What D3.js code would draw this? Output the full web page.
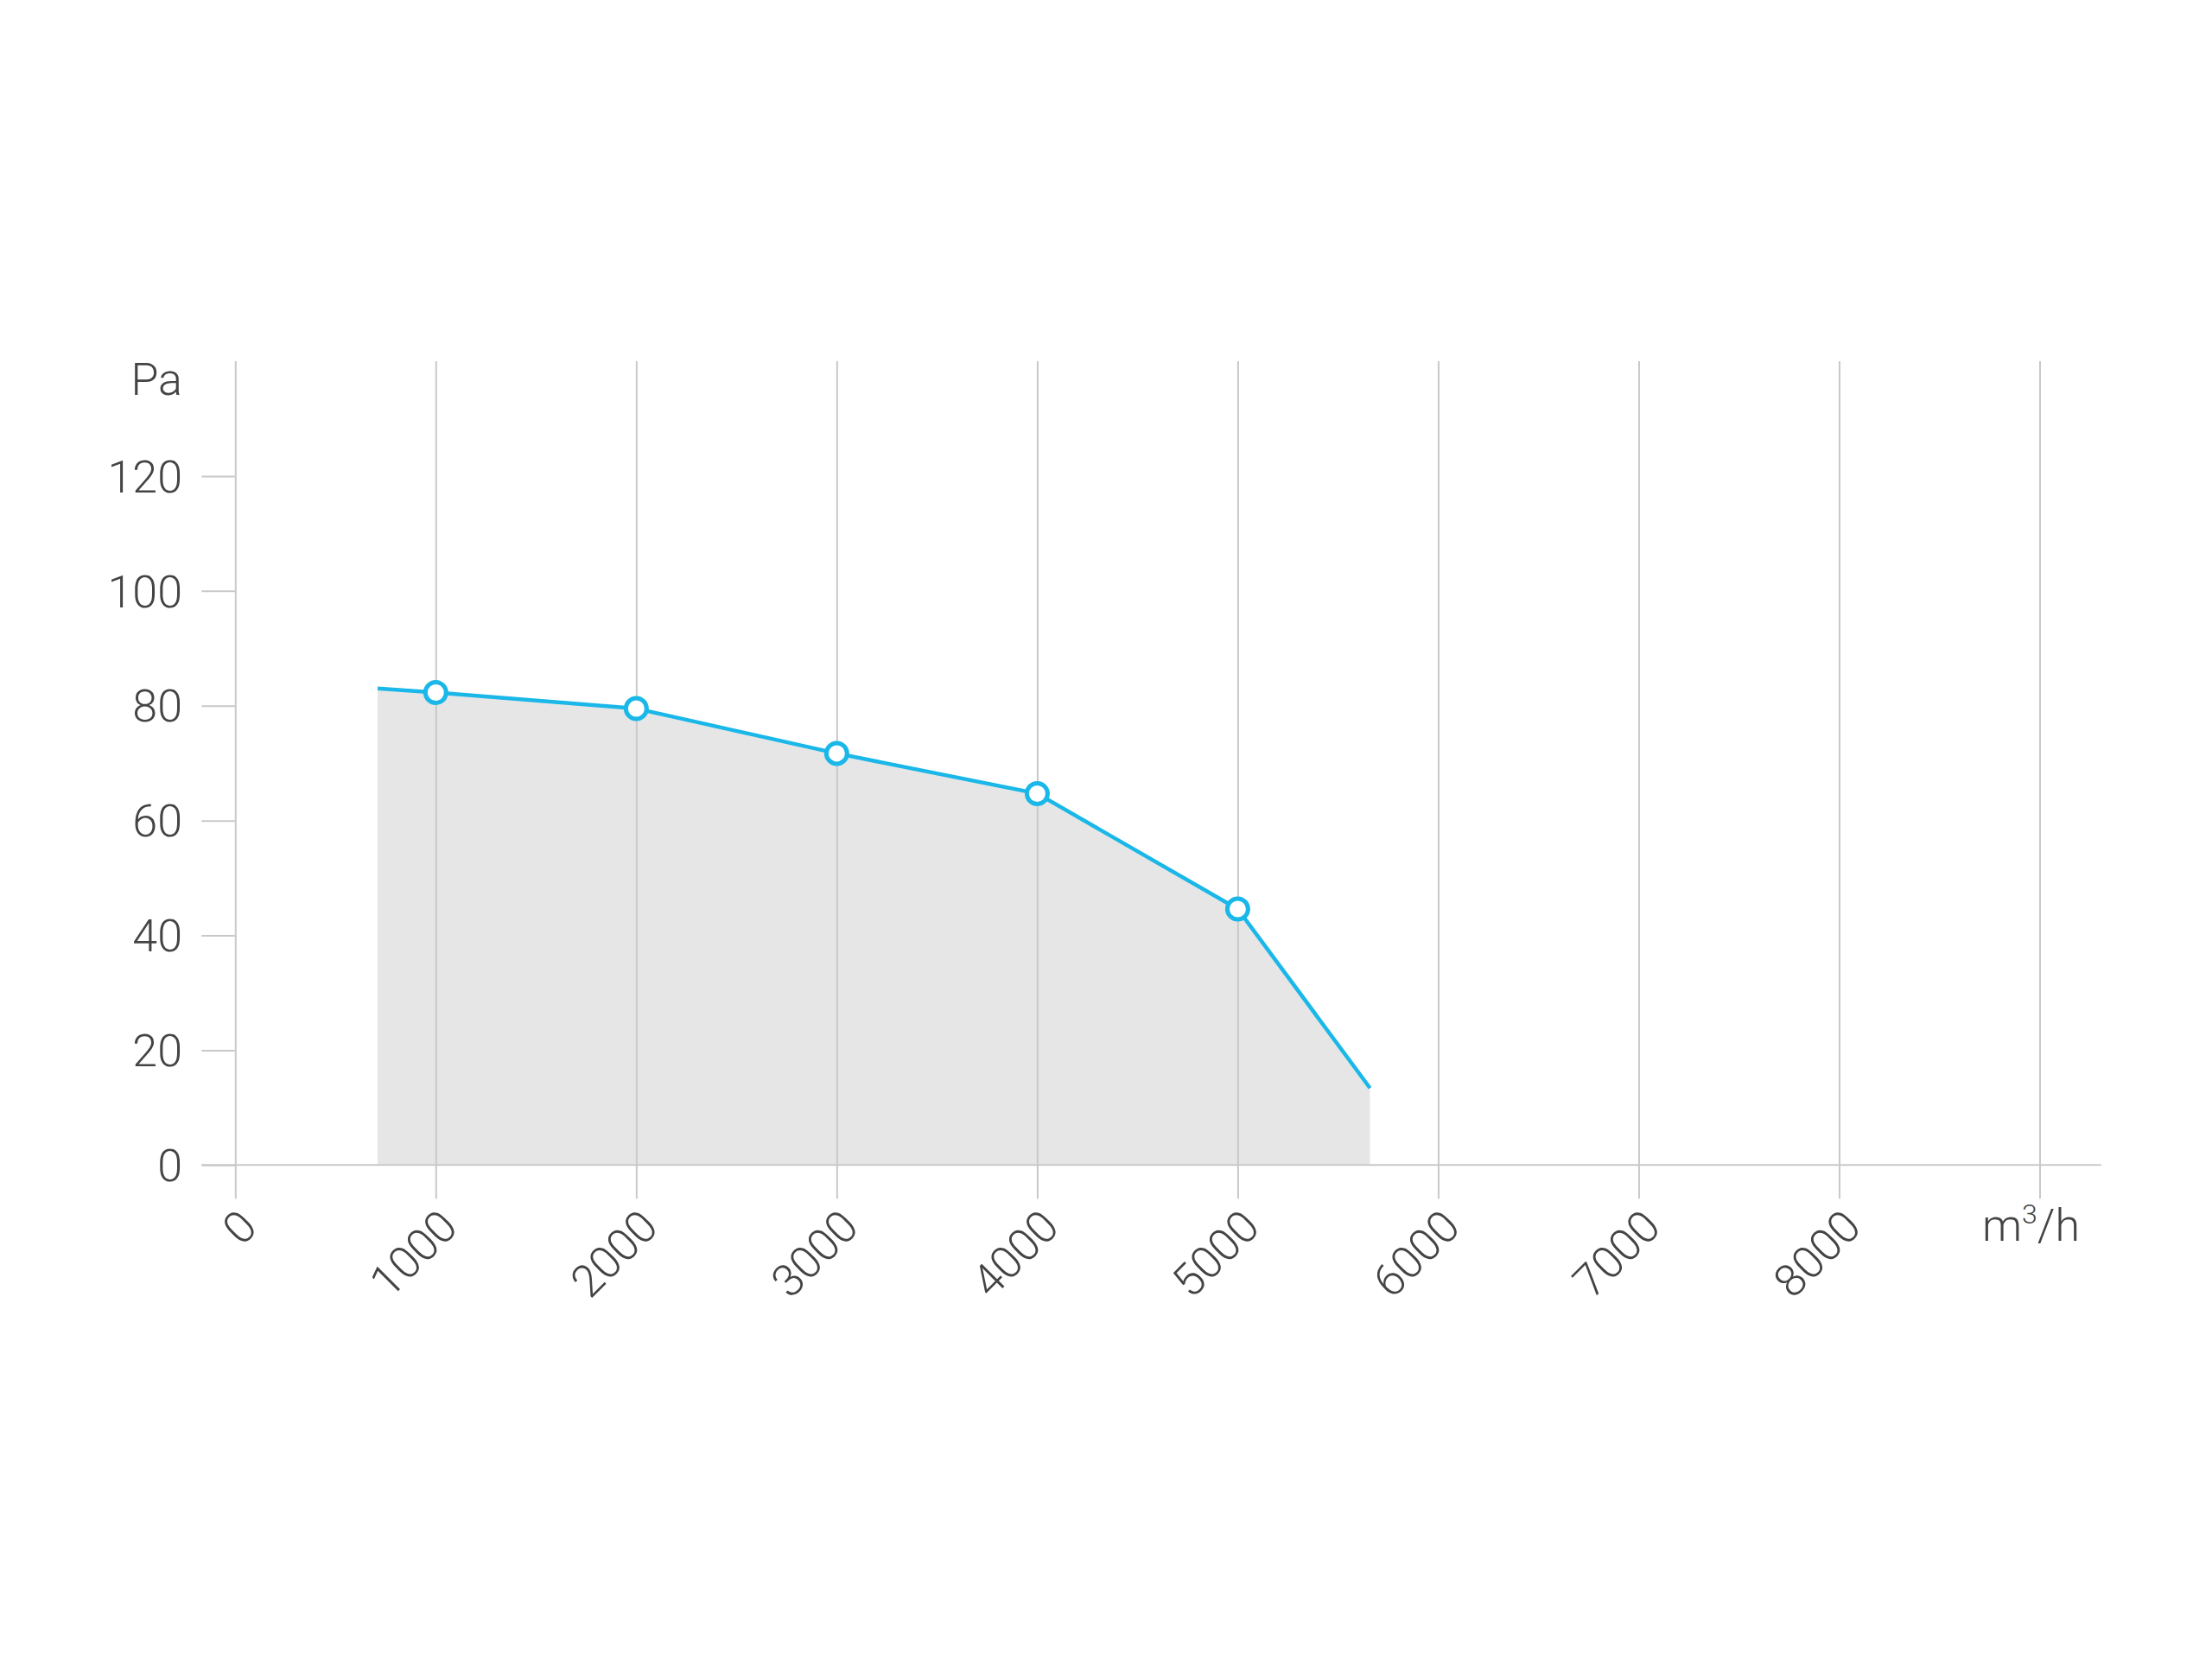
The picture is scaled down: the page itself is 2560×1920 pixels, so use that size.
<!DOCTYPE html>
<html>
<head>
<meta charset="utf-8">
<script src="https://cdn.jsdelivr.net/npm/d3@7"></script>
<style>
  html, body { margin: 0; padding: 0; background: #ffffff; }
  svg { display: block; }
  text { font-family: Roboto, "Noto Sans", sans-serif; font-weight: 300; fill: #444444; }
</style>
</head>
<body>
<svg id="chart" width="2560" height="1920"></svg>
<script>
// ---- data ----
const xTickValues = [0, 1000, 2000, 3000, 4000, 5000, 6000, 7000, 8000, 9000];
const xTickLabels = ["0", "1000", "2000", "3000", "4000", "5000", "6000", "7000", "8000", "m³/h"];
const yTickValues = [0, 20, 40, 60, 80, 100, 120];
const yUnitLabel = "Pa";
const curveFlow = [710, 1000, 2000, 3000, 4000, 5000, 5660];
const curvePressure = [83.0, 82.3, 79.5, 71.7, 64.7, 44.6, 13.4];
const curveMarker = [false, true, true, true, true, true, false];

// ---- layout ----
const svg = d3.select("#chart");
const x = d3.scaleLinear().domain([0, 9000]).range([272.3, 2360.5]);
const y = d3.scaleLinear().domain([0, 140]).range([1348.3, 418.1]);
const gridColor = "#c9c9c9";
const lineColor = "#1ab7e9";

const pts = curveFlow.map((f, i) => ({ f, p: curvePressure[i], m: curveMarker[i] }));

// area fill
svg.append("path")
  .datum(pts)
  .attr("fill", "#e6e6e6")
  .attr("d", d3.area().x(d => x(d.f)).y0(y(0)).y1(d => y(d.p)));

// vertical grid lines (incl. y axis) via axis
const xAxisG = svg.append("g")
  .attr("transform", `translate(0,${y(140)})`)
  .call(d3.axisBottom(x).tickValues(xTickValues).tickSize(y(0) - y(140) + 39).tickFormat(""));
xAxisG.select(".domain").remove();
xAxisG.selectAll(".tick line").attr("stroke", gridColor).attr("stroke-width", 2);

// y ticks
const yAxisG = svg.append("g")
  .attr("transform", `translate(${x(0)},0)`)
  .call(d3.axisLeft(y).tickValues(yTickValues).tickSize(39).tickPadding(25));
yAxisG.select(".domain").remove();
yAxisG.selectAll(".tick line").attr("stroke", gridColor).attr("stroke-width", 2);
yAxisG.selectAll(".tick text")
  .attr("font-size", 52).attr("font-family", "Roboto, sans-serif")
  .attr("font-weight", 300).attr("fill", "#444").attr("dy", "0.35em")
  .attr("x", 211 - x(0));

// Pa label
svg.append("text")
  .attr("x", 211).attr("y", y(140) + 39)
  .attr("text-anchor", "end").attr("font-size", 52)
  .text(yUnitLabel);

// baseline axis line
svg.append("line")
  .attr("x1", x(0) - 39).attr("x2", 2431.7)
  .attr("y1", y(0)).attr("y2", y(0))
  .attr("stroke", gridColor).attr("stroke-width", 2);

// x tick labels
xTickValues.forEach((v, i) => {
  if (i < xTickValues.length - 1) {
    svg.append("text")
      .attr("transform", `translate(${x(v) + 15},${1410}) rotate(-45)`)
      .attr("text-anchor", "end").attr("dy", "0.35em")
      .attr("font-size", 52)
      .text(xTickLabels[i]);
  } else {
    const t = svg.append("text")
      .attr("x", x(v) - 10).attr("y", 1436)
      .attr("text-anchor", "middle").attr("font-size", 52);
    t.append("tspan").text("m");
    t.append("tspan").attr("font-size", 32).attr("dy", -20).text("3");
    t.append("tspan").attr("dy", 20).text("/h");
  }
});

// curve line
svg.append("path")
  .datum(pts)
  .attr("fill", "none")
  .attr("stroke", lineColor)
  .attr("stroke-width", 4.5)
  .attr("d", d3.line().x(d => x(d.f)).y(d => y(d.p)));

// markers
svg.selectAll("circle.marker")
  .data(pts.filter(d => d.m))
  .join("circle")
  .attr("class", "marker")
  .attr("cx", d => x(d.f)).attr("cy", d => y(d.p))
  .attr("r", 12)
  .attr("fill", "#ffffff")
  .attr("stroke", lineColor)
  .attr("stroke-width", 5);
</script>
</body>
</html>
